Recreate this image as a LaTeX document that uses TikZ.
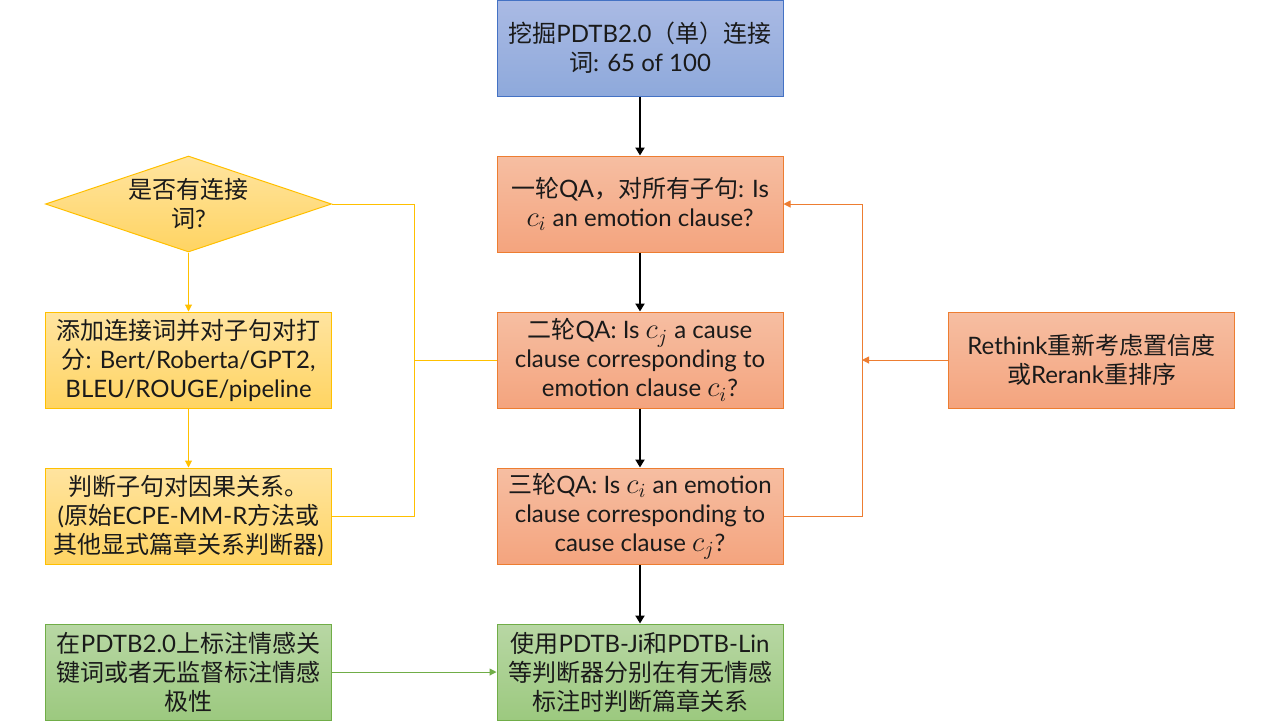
\documentclass[tikz,border=0pt]{standalone}
\usepackage{fontspec}
\setmainfont{Lato}
\newfontfamily\cjkfont{Noto Sans CJK SC}
\newcommand\C[1]{{\cjkfont #1}}
\newcommand\mc[1]{{\fontsize{14.5pt}{14.5pt}\selectfont$c_{#1}$}}
\usetikzlibrary{shapes.geometric,arrows.meta}
\definecolor{bluebd}{HTML}{4472C4}
\definecolor{bluetop}{HTML}{AABAE4}
\definecolor{bluebot}{HTML}{8EA9DB}
\definecolor{orbd}{HTML}{ED7D31}
\definecolor{ortop}{HTML}{F6BEA2}
\definecolor{orbot}{HTML}{F4A47E}
\definecolor{yebd}{HTML}{FFC000}
\definecolor{yetop}{HTML}{FFE4A0}
\definecolor{yebot}{HTML}{FFD462}
\definecolor{grbd}{HTML}{70AD47}
\definecolor{grtop}{HTML}{B8D7A4}
\definecolor{grbot}{HTML}{9CC97F}
\definecolor{txt}{HTML}{1A1A1A}
\tikzset{
  box/.style={rectangle, minimum width=143pt, minimum height=48pt, inner sep=2pt,
    align=center, line width=0.5pt, text=txt, font=\fontsize{12pt}{14.5pt}\selectfont},
  bluebox/.style={box, draw=bluebd, top color=bluetop, bottom color=bluebot},
  orbox/.style={box, draw=orbd, top color=ortop, bottom color=orbot},
  yebox/.style={box, draw=yebd, top color=yetop, bottom color=yebot},
  grbox/.style={box, draw=grbd, top color=grtop, bottom color=grbot},
  blackarrow/.style={-{Triangle[width=4.5pt,length=4pt]}, line width=1pt, black},
  thinline/.style={line width=0.5pt},
  thinarrow/.style={thinline, -{Triangle[width=3.5pt,length=3.5pt]}},
}
\begin{document}
\begin{tikzpicture}[x=0.5pt,y=-0.5pt]
\useasboundingbox (0,0) rectangle (1280,720);
\fill[white] (0,0) rectangle (1280,720);

\node[bluebox] (top) at (640,48) {\C{挖掘}PDTB2.0\C{（单）连接}\\\C{词}: 65 of 100};
\node[orbox] (qa1) at (640,204) {\C{一轮}QA\C{，对所有子句}: Is\\\mc{i} an emotion clause?};
\node[orbox] (qa2) at (640,360) {\C{二轮}QA: Is \mc{j} a cause\\clause corresponding to\\emotion clause \mc{i}?};
\node[orbox] (qa3) at (640,516) {\C{三轮}QA: Is \mc{i} an emotion\\clause corresponding to\\cause clause \mc{j}?};
\node[grbox] (res) at (640,672) {\C{使用}PDTB-Ji\C{和}PDTB-Lin\\\C{等判断器分别在有无情感}\\\C{标注时判断篇章关系}};
\node[grbox] (ann) at (188.5,672) {\C{在}PDTB2.0\C{上标注情感关}\\\C{键词或者无监督标注情感}\\\C{极性}};
\node[diamond, draw=yebd, line width=0.5pt, top color=yetop, bottom color=yebot,
  minimum width=143pt, minimum height=48pt, inner sep=0pt,
  label={[align=center, text=txt, font=\fontsize{12pt}{14.5pt}\selectfont]center:\C{是否有连接}\\\C{词}?}] (dia) at (188.5,204) {};
\node[yebox] (add) at (188.5,360) {\C{添加连接词并对子句对打}\\\C{分}: Bert/Roberta/GPT2,\\BLEU/ROUGE/pipeline};
\node[yebox] (judge) at (188.5,516) {\C{判断子句对因果关系。}\\(\C{原始}ECPE-MM-R\C{方法或}\\\C{其他显式篇章关系判断器})};
\node[orbox] (re) at (1091.5,360) {Rethink\C{重新考虑置信度}\\\C{或}Rerank\C{重排序}};

\coordinate (ytop) at (414,204);
\coordinate (ymid) at (414,360);
\coordinate (ybot) at (414,516);
\coordinate (otop) at (862,204);
\coordinate (omid) at (862,360);
\coordinate (obot) at (862,516);

\draw[blackarrow] (top.south) -- (qa1.north);
\draw[blackarrow] (qa1.south) -- (qa2.north);
\draw[blackarrow] (qa2.south) -- (qa3.north);
\draw[blackarrow] (qa3.south) -- (res.north);

\draw[thinarrow, yebd] (dia.south) -- (add.north);
\draw[thinarrow, yebd] (add.south) -- (judge.north);
\draw[thinline, yebd] (dia.east) -- (ytop) -- (ybot) -- (judge.east);
\draw[thinline, yebd] (ymid) -- (qa2.west);

\draw[thinarrow, orbd] (qa3.east) -- (obot) -- (otop) -- (qa1.east);
\draw[thinarrow, orbd] (re.west) -- (omid);

\draw[thinarrow, grbd] (ann.east) -- (res.west);
\end{tikzpicture}
\end{document}
